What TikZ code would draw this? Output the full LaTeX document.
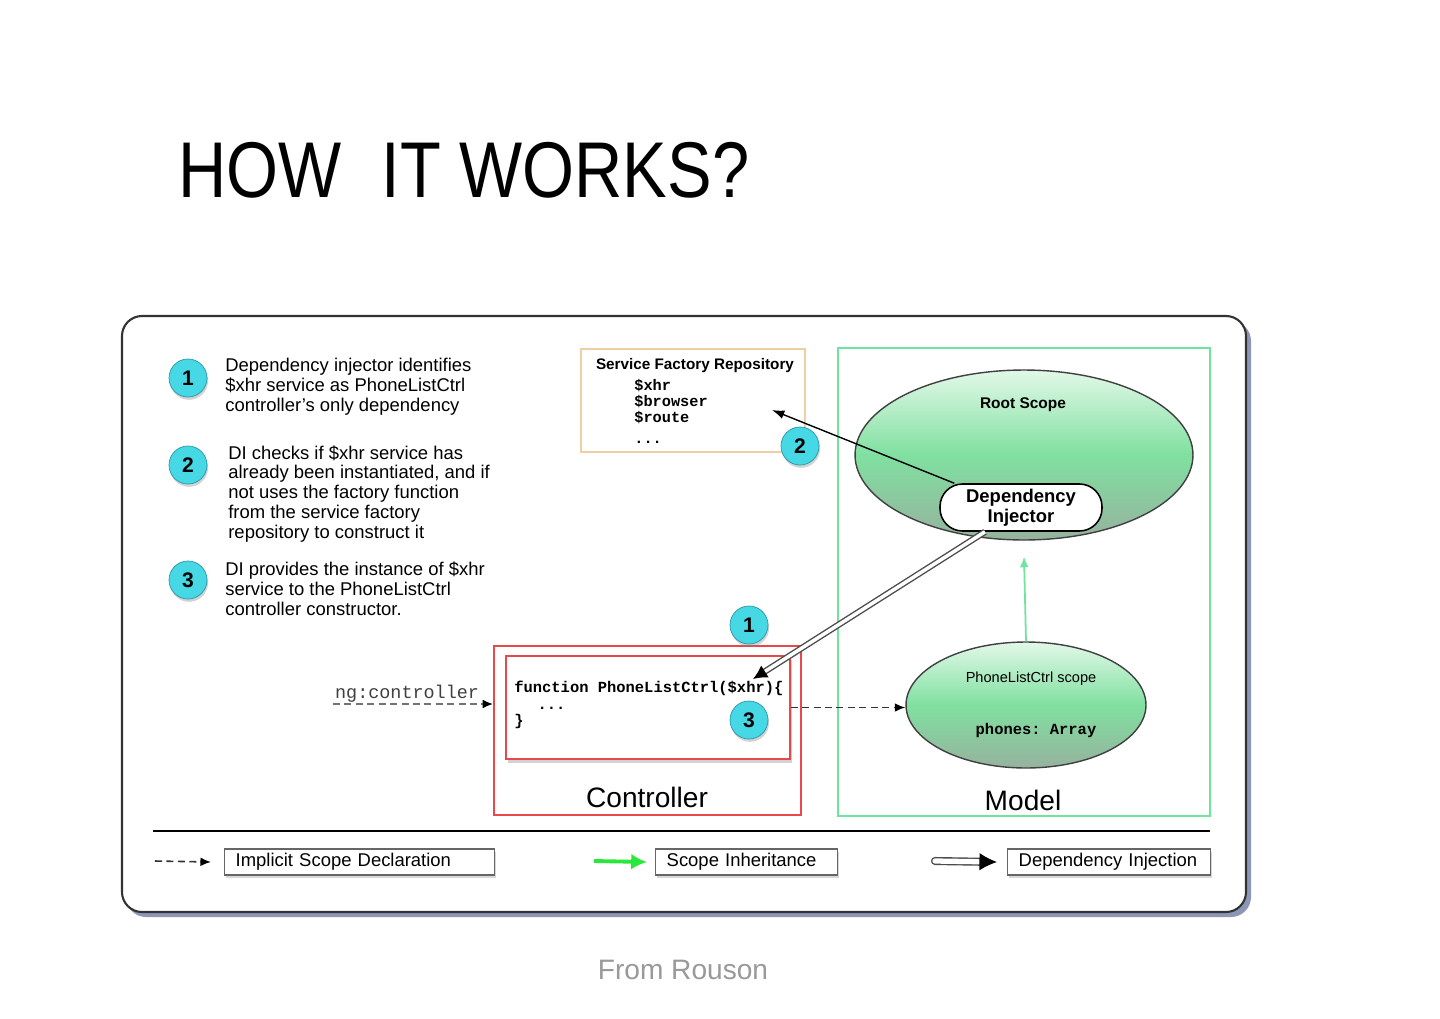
\documentclass[tikz,border=0pt]{standalone}
\usepackage{graphicx}
\usepackage{fontspec}
\setmainfont{Liberation Sans}
\setmonofont{Liberation Mono}
\usetikzlibrary{shapes.geometric,shadows,arrows.meta,calc}
\definecolor{bubblecol}{RGB}{70,216,228}
\definecolor{bubbleedge}{RGB}{40,150,170}
\definecolor{scopetop}{RGB}{226,248,232}
\definecolor{scopemid}{RGB}{128,224,160}
\definecolor{scopebot}{RGB}{150,178,158}
\definecolor{modelgreen}{RGB}{110,228,160}
\definecolor{ctrlred}{RGB}{232,72,72}
\definecolor{repotan}{RGB}{238,206,162}
\definecolor{panelshade}{RGB}{140,150,182}
\definecolor{inhgreen}{RGB}{40,232,60}
\newcommand{\fs}[2]{\fontsize{#1}{#2}\selectfont}
\newcommand{\cd}{\ttfamily\bfseries}
\tikzset{
  bubble/.style={circle,draw=bubbleedge,fill=bubblecol,minimum size=0.76cm,inner sep=0pt,
    font=\bfseries\fs{12}{13},drop shadow={opacity=0.35,shadow xshift=0.6pt,shadow yshift=-1.6pt}},
  note/.style={anchor=west,align=left,inner sep=0pt,font=\fs{10.5}{11.35}},
  scopeshape/.style={ellipse,draw=black!75,line width=0.8pt,inner sep=0pt,
    top color=scopetop,bottom color=scopebot,middle color=scopemid},
  injbox/.style={rectangle,rounded corners=0.45cm,draw=black,line width=0.9pt,fill=white,
    minimum width=3.24cm,minimum height=0.94cm,inner sep=0pt,align=center,font=\bfseries\fs{10.5}{11.35}},
  legbox/.style={anchor=west,draw=black!60,line width=0.8pt,fill=white,align=left,
    inner xsep=0.22cm,inner ysep=0pt,minimum height=0.52cm,font=\fs{10.5}{12},
    drop shadow={opacity=0.3,shadow xshift=0.8pt,shadow yshift=-1.6pt}},
  implicit/.style={dashed,dash pattern=on 4pt off 2.5pt,line width=0.9pt,draw=black!80,
    -{Latex[black,length=6pt,width=5pt]}},
  inject/.style={draw=gray!60!black,double=white,double distance=2pt,line width=0.8pt,
    -{Latex[black,length=8pt,width=8pt]}},
  inherit/.style={draw=modelgreen,line width=1pt,-{Latex[length=6pt,width=5pt]}}
}
\begin{document}
\begin{tikzpicture}[x=0.02cm,y=-0.02cm]
     \useasboundingbox (0,0) rectangle (1440,1018);
     \fill[white] (0,0) rectangle (1440,1018);
     \node[anchor=base west,inner sep=0pt] (title) at (178,197)
        {\scalebox{0.845}[1]{\fs{45}{50}HOW\hspace{0.6em}IT WORKS?}};
     \fill[panelshade,rounded corners=0.4cm] (126,321) rectangle (1251,917);
     \draw[fill=white,line width=1.2pt,draw=black!80,rounded corners=0.4cm] (122,316) rectangle (1246,912);
     \foreach \n/\x/\y in {1/188/378, 2/188/465, 3/188/580} {
      \node[bubble] (note\n) at (\x,\y) {\n};
     }
     \node[note] (text1) at (225,387) {Dependency injector identifies\\ \$xhr service as PhoneListCtrl\\ controller's only dependency};
     \node[note] (text2) at (228,494) {DI checks if \$xhr service has\\ already been instantiated, and if\\ not uses the factory function\\ from the service factory\\ repository to construct it};
     \node[note] (text3) at (225,589) {DI provides the instance of \$xhr\\ service to the PhoneListCtrl\\ controller constructor.};
     \node[draw=repotan,line width=1pt,fill=white,minimum width=4.48cm,minimum height=2.06cm] (repo) at (693,400.5) {};
     \node[font=\bfseries\fs{8.7}{10}] (repotitle) at (695,366) {Service Factory Repository};
     \node[anchor=north west,align=left,inner sep=0pt,font=\cd\fs{8.7}{9.1}] (repolist) at (634,379)
        {\$xhr\\ \$browser\\ \$route\\[3pt] ...};
     \node[draw=modelgreen,line width=1.2pt,minimum width=7.44cm,minimum height=9.36cm] (model) at (1024,582) {};
     \node[scopeshape,minimum width=6.76cm,minimum height=3.4cm] (root) at (1024,455) {};
     \node[font=\bfseries\fs{8.8}{10}] (rootlbl) at (1023,405) {Root Scope};
     \node[injbox] (inj) at (1021,507.5) {Dependency\\ Injector};
     \node[scopeshape,minimum width=4.8cm,minimum height=2.52cm] (plscope) at (1026,705) {};
     \node[font=\fs{8.3}{10}] (pllbl) at (1031,679) {PhoneListCtrl scope};
     \node[font=\cd\fs{8.8}{10}] (plvar) at (1036,730) {phones: Array};
     \node[font=\fs{16}{18}] (modellbl) at (1023,800) {Model};
     \node[draw=ctrlred,line width=0.9pt,minimum width=6.14cm,minimum height=3.38cm] (ctrlbox) at (647.5,730.5) {};
     \node[draw=ctrlred,line width=0.9pt,fill=white,minimum width=5.68cm,minimum height=2.06cm,
        drop shadow={opacity=0.35,shadow xshift=1pt,shadow yshift=-2pt}] (code) at (648,707.5) {};
     \node[anchor=north west,align=left,inner sep=0pt,font=\cd\fs{8.8}{9.4}] (codetext) at (514,681)
        {function PhoneListCtrl(\$xhr)\{\\ \hspace*{1.5em}...\\ \}};
     \node[font=\fs{16}{18}] (ctrllbl) at (647,797) {Controller};
     \node[bubble] (call2) at (800,446) {2};
     \node[bubble] (call1) at (749,625) {1};
     \node[bubble] (call3) at (749,720) {3};
     \node[anchor=south west,inner sep=1pt,font=\ttfamily\fs{10.5}{12},text=black!75] (ngc) at (333,704) {ng:controller};
     \coordinate (xhrin) at (772,410);
     \coordinate (ctrlin) at (753,679);
     \draw[-{Latex[length=7pt,width=5pt]},line width=0.8pt] (inj.160) -- (xhrin);
     \draw[inject] ($(inj.south)+(-36,0)$) -- (ctrlin);
     \draw[inherit] (plscope.north) -- ($(root.south)+(0,16)$);
     \draw[implicit] (code.east) -- (plscope.west |- code.east);
     \draw[implicit,draw=black!55,line width=1.1pt] (ngc.south west) -- (ngc.south west -| ctrlbox.west);
     \draw[line width=1.3pt] (153,831) -- (1210,831);
     \node[legbox,text width=4.96cm] (legimp) at (224,862) {Implicit Scope Declaration};
     \node[legbox,text width=3.2cm] (leginh) at (655,862) {Scope Inheritance};
     \node[legbox,text width=3.62cm] (legdi) at (1007,862) {Dependency Injection};
     \coordinate (impfrom) at (155,861);
     \coordinate (inhfrom) at (594,861);
     \coordinate (difrom) at (935,861);
     \draw[implicit] (impfrom) -- ($(legimp.west)+(-13,0)$);
     \draw[draw=inhgreen,line width=2.2pt,-{Latex[length=9pt,width=9pt]}] (inhfrom) -- ($(leginh.west)+(-8,0)$);
     \draw[inject,double distance=3pt,line cap=round,-{Latex[black,length=10pt,width=10pt]}] (difrom) -- ($(legdi.west)+(-10,0)$);
     \node[text=gray!80,font=\fs{16}{18}] (src) at (683,970) {From Rouson};
    \end{tikzpicture}
\end{document}
